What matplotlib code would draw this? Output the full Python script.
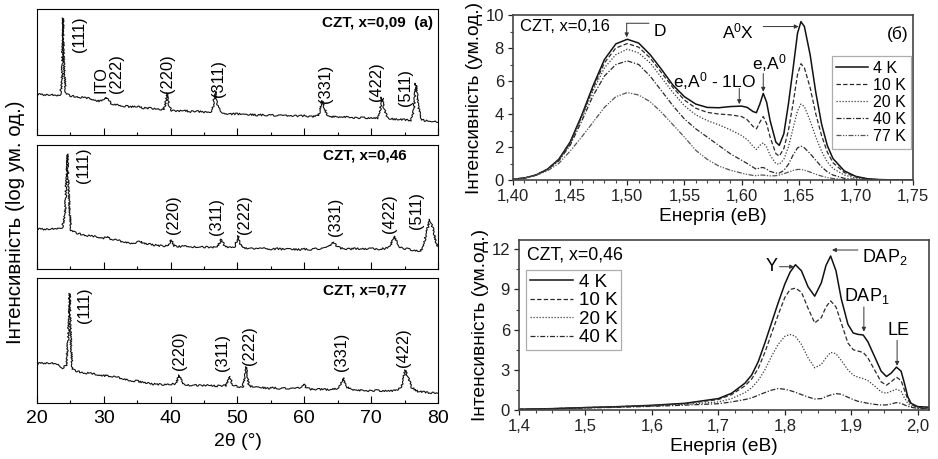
import matplotlib
matplotlib.use("Agg")
import matplotlib.pyplot as plt
from matplotlib.ticker import MultipleLocator, FuncFormatter

plt.rcParams['font.family'] = ['Liberation Sans', 'DejaVu Sans']
plt.rcParams['mathtext.fontset'] = 'custom'
plt.rcParams['mathtext.rm'] = 'Liberation Sans'
plt.rcParams['mathtext.it'] = 'Liberation Sans:italic'
plt.rcParams['mathtext.bf'] = 'Liberation Sans:bold'

# ---------------- XRD data (arbitrary log units, 0-100 of panel) ----------------
tt_a = [20, 21, 22, 23, 23.5, 23.75, 23.9, 24.05, 24.3, 25, 26, 27, 28, 29, 29.7, 30.0, 30.3, 30.7, 31.2,
        32, 33, 34, 35, 36, 37, 38, 38.9, 39.2, 39.5, 39.8, 40.2, 41, 42, 43, 44, 45, 46, 46.3, 46.7, 47.0,
        47.5, 48, 49, 50, 51, 52, 53, 54, 55, 56, 57, 58, 59, 60, 61, 62, 62.3, 62.7, 63.1, 63.5, 64, 65,
        66, 67, 68, 69, 70, 71, 71.3, 71.6, 71.9, 72.4, 73, 74, 75, 76, 76.4, 76.7, 77.0, 77.4, 78, 79, 80]
I_a = [32.4, 31.8, 32.2, 31.0, 31.5, 45, 92.8, 55, 33, 31.2, 30.3, 29.6, 28.8, 27.2, 26.8, 28.5, 30.0, 27.5, 24.5,
       24.2, 23.0, 22.4, 22.6, 21.4, 21.2, 20.3, 20.0, 23.5, 33.2, 23.0, 19.2, 19.0, 19.4, 18.6, 18.7, 18.2, 18.4, 21.0, 35.0, 24.0,
       17.6, 17.2, 16.6, 16.8, 16.0, 16.3, 15.8, 16.0, 15.5, 15.8, 15.2, 15.5, 15.0, 15.3, 14.6, 15.0, 18.5, 27.0, 20.0, 15.0, 14.6, 14.2,
       14.5, 14.0, 13.6, 13.9, 13.3, 13.5, 18.0, 30.0, 22.0, 14.0, 12.8, 12.5, 12.0, 11.8, 20.0, 41.0, 26.0, 12.5, 11.5, 10.8, 10.6]

tt_b = [20, 21, 22, 23, 23.8, 24.2, 24.55, 24.85, 25.1, 26, 27, 28, 29, 30, 30.4, 31, 32, 33, 34, 35, 35.5, 36, 37,
        38, 39, 39.7, 40.1, 40.5, 41, 42, 43, 44, 45, 46, 47.0, 47.6, 48.1, 48.8, 49.6, 50.1, 50.5, 51, 52, 53,
        54, 55, 56, 57, 58, 59, 60, 61, 62, 63, 63.7, 64.3, 64.9, 65.5, 66, 67, 68, 69, 70, 71, 72, 72.8, 73.5,
        74.1, 74.8, 75.5, 76.5, 77.3, 77.8, 78.3, 78.8, 79.3, 79.7, 80]
I_b = [32.3, 32.0, 32.5, 32.2, 33.5, 45, 92.7, 50, 31, 29.0, 27.6, 26.5, 25.8, 25.0, 26.0, 24.2, 23.2, 22.0, 21.0, 21.5, 22.2, 20.6, 19.8,
       19.0, 18.4, 18.8, 23.4, 18.5, 18.0, 18.5, 17.6, 18.1, 17.8, 17.4, 18.0, 23.9, 18.2, 17.5, 18.0, 26.6, 18.5, 17.0, 16.8, 16.3,
       16.6, 16.0, 16.4, 15.8, 16.2, 15.7, 16.1, 15.8, 16.4, 16.8, 18.0, 22.0, 18.0, 16.8, 16.4, 16.2, 16.6, 16.0, 16.4, 16.0, 16.5, 18.0, 26.6,
       18.5, 16.5, 16.3, 15.0, 14.0, 18.0, 30.0, 40.0, 32.0, 22.0, 16.7]

tt_c = [20, 21, 22, 23, 23.9, 24.4, 24.7, 24.9, 25.1, 25.3, 26, 27, 28, 29, 30, 31, 32, 33, 34, 35, 36, 37, 38, 39,
        40, 40.8, 41.3, 41.8, 42.5, 43.5, 44.5, 45.5, 46.5, 47.5, 48.3, 48.8, 49.3, 50, 50.8, 51.3, 51.7, 52.5, 53.5,
        54.5, 55.5, 56.5, 57.5, 58.5, 59.5, 59.9, 60.3, 61, 62, 63, 64, 65.2, 65.8, 66.3, 67, 68, 69, 70, 71, 72, 73,
        74, 74.6, 75.1, 75.6, 76.1, 77, 78, 79, 80]
I_c = [31.6, 31.8, 32.2, 30.8, 28.0, 30.5, 55, 87.7, 45, 27.0, 25.5, 24.2, 23.6, 22.6, 22.0, 21.4, 20.6, 19.4, 18.0, 17.5, 16.4, 15.4, 15.0, 14.5,
       14.8, 15.5, 22.2, 15.5, 14.2, 14.6, 13.8, 14.3, 13.6, 13.7, 14.0, 21.4, 14.5, 13.0, 12.6, 28.9, 14.0, 12.4, 12.6,
       11.8, 12.2, 11.5, 11.9, 11.4, 12.4, 15.5, 12.0, 11.0, 11.2, 10.8, 10.9, 11.5, 20.3, 13.0, 10.8, 10.4, 10.0, 9.8, 10.2, 9.6, 9.8,
       10.4, 14.0, 26.2, 20.0, 12.3, 9.4, 8.6, 8.2, 7.5]

labels_a = ["(111)", "ITO\n(222)", "(220)", "(311)", "(331)", "(422)", "(511)"]
lab_x_a = [26.4, 30.75, 39.6, 47.1, 63.1, 70.8, 75.2]
lab_y_a = [80, 49, 48.5, 45, 40.5, 42, 38]
labels_b = ["(111)", "(220)", "(311)", "(222)", "(331)", "(422)", "(511)"]
lab_x_b = [26.9, 40.5, 46.9, 51.1, 64.6, 72.8, 76.8]
lab_y_b = [84, 44, 42, 44, 42, 45, 47]
labels_c = ["(111)", "(220)", "(311)", "(222)", "(331)", "(422)"]
lab_x_c = [27.1, 41.4, 47.8, 51.8, 65.6, 74.8]
lab_y_c = [78, 42, 40, 46, 41, 44]
titles_xrd = ["CZT, x=0,09  (a)", "CZT, x=0,46", "CZT, x=0,77"]

# ---------------- PL data, x=0.16 ----------------
E_top = [1.40, 1.41, 1.42, 1.43, 1.44, 1.45, 1.46, 1.47, 1.48, 1.49, 1.50, 1.51, 1.52, 1.53, 1.54, 1.55, 1.56,
         1.57, 1.58, 1.59, 1.60, 1.605, 1.61, 1.613, 1.616, 1.619, 1.622, 1.625, 1.63, 1.633, 1.637, 1.641,
         1.645, 1.649, 1.652, 1.655, 1.66, 1.665, 1.67, 1.675, 1.68, 1.69, 1.70, 1.71, 1.72, 1.73, 1.75]
top_4K = [0.05, 0.12, 0.3, 0.65, 1.25, 2.3, 3.9, 5.7, 7.3, 8.25, 8.53, 8.3, 7.6, 6.7, 5.75, 5.05, 4.6, 4.4, 4.38,
          4.45, 4.48, 4.4, 4.15, 4.08, 4.6, 5.25, 4.7, 3.6, 2.3, 2.1, 2.8, 4.6, 6.7, 8.9, 9.6, 9.3, 7.6, 5.3, 3.4,
          2.1, 1.3, 0.55, 0.22, 0.08, 0.03, 0.01, 0.0]
top_10K = [0.05, 0.12, 0.3, 0.65, 1.23, 2.25, 3.85, 5.55, 7.1, 8.0, 8.27, 8.05, 7.4, 6.5, 5.6, 4.85, 4.35, 4.1, 4.0,
           3.95, 3.85, 3.65, 3.25, 3.1, 3.5, 3.85, 3.4, 2.6, 1.6, 1.45, 1.9, 3.0, 4.6, 6.4, 7.05, 6.8, 5.6, 4.0, 2.7,
           1.7, 1.05, 0.45, 0.18, 0.07, 0.02, 0.01, 0.0]
top_20K = [0.05, 0.12, 0.3, 0.64, 1.2, 2.2, 3.75, 5.4, 6.8, 7.6, 7.93, 7.7, 7.1, 6.2, 5.3, 4.5, 3.95, 3.6, 3.35,
           3.05, 2.7, 2.45, 2.05, 1.85, 2.1, 2.25, 2.0, 1.5, 1.0, 0.95, 1.25, 2.0, 3.1, 4.2, 4.6, 4.45, 3.6, 2.6, 1.75,
           1.1, 0.7, 0.3, 0.12, 0.05, 0.02, 0.0, 0.0]
top_40K = [0.05, 0.12, 0.3, 0.62, 1.15, 2.1, 3.55, 5.1, 6.3, 7.0, 7.22, 7.0, 6.3, 5.4, 4.5, 3.7, 3.1, 2.6, 2.1,
           1.6, 1.2, 1.0, 0.78, 0.65, 0.74, 0.76, 0.66, 0.52, 0.42, 0.42, 0.58, 0.95, 1.5, 1.95, 2.05, 1.95, 1.6, 1.2, 0.8,
           0.5, 0.3, 0.1, 0.04, 0.01, 0.0, 0.0, 0.0]
top_77K = [0.05, 0.11, 0.28, 0.55, 1.0, 1.75, 2.6, 3.5, 4.4, 5.05, 5.3, 5.15, 4.75, 4.1, 3.35, 2.6, 1.8, 1.25, 0.85,
           0.6, 0.42, 0.34, 0.28, 0.26, 0.3, 0.3, 0.27, 0.25, 0.26, 0.3, 0.38, 0.48, 0.58, 0.64, 0.64, 0.6, 0.48, 0.35, 0.24,
           0.15, 0.09, 0.03, 0.01, 0.0, 0.0, 0.0, 0.0]
top_series = [top_4K, top_10K, top_20K, top_40K, top_77K]
top_labels = ["4 K", "10 K", "20 K", "40 K", "77 K"]
top_xticks = [1.40, 1.45, 1.50, 1.55, 1.60, 1.65, 1.70, 1.75]
top_yticks = [0, 2, 4, 6, 8, 10]

# ---------------- PL data, x=0.46 ----------------
E_bot = [1.40, 1.45, 1.50, 1.55, 1.60, 1.65, 1.70, 1.72, 1.74, 1.75, 1.76, 1.77, 1.78, 1.79, 1.80, 1.808, 1.816,
         1.825, 1.835, 1.845, 1.855, 1.862, 1.869, 1.877, 1.885, 1.895, 1.903, 1.91, 1.918, 1.925, 1.935, 1.945,
         1.953, 1.96, 1.968, 1.975, 1.98, 1.985, 1.99, 2.00, 2.02]
bot_4K = [0.05, 0.1, 0.18, 0.25, 0.35, 0.5, 0.85, 1.25, 2.0, 2.6, 3.6, 5.0, 6.5, 8.0, 9.4, 10.3, 10.85, 10.4, 9.2,
          8.5, 9.5, 10.8, 11.5, 10.4, 8.3, 6.4, 5.75, 5.65, 5.6, 5.1, 4.0, 2.9, 2.5, 2.75, 3.2, 2.9, 2.0, 1.0, 0.5,
          0.25, 0.2]
bot_10K = [0.05, 0.1, 0.18, 0.25, 0.33, 0.47, 0.78, 1.15, 1.8, 2.3, 3.1, 4.3, 5.7, 7.1, 8.4, 9.0, 9.1, 8.8, 7.6,
           6.5, 6.9, 7.7, 8.15, 7.7, 6.5, 5.0, 4.5, 4.4, 4.3, 3.9, 3.0, 2.1, 1.85, 2.1, 2.45, 2.2, 1.5, 0.8, 0.4,
           0.2, 0.15]
bot_20K = [0.05, 0.1, 0.17, 0.24, 0.3, 0.42, 0.6, 0.85, 1.3, 1.65, 2.2, 3.0, 4.0, 4.9, 5.5, 5.64, 5.5, 4.9, 3.9,
           3.15, 3.4, 3.9, 4.3, 4.2, 3.7, 3.0, 2.6, 2.45, 2.35, 2.2, 1.8, 1.35, 1.25, 1.4, 1.55, 1.4, 0.9, 0.5, 0.3,
           0.15, 0.1]
bot_40K = [0.05, 0.09, 0.15, 0.2, 0.27, 0.36, 0.47, 0.6, 0.78, 0.9, 1.1, 1.3, 1.48, 1.6, 1.55, 1.45, 1.32, 1.15,
           0.97, 0.82, 0.85, 1.0, 1.12, 1.22, 1.18, 0.95, 0.78, 0.65, 0.57, 0.5, 0.42, 0.37, 0.38, 0.45, 0.55, 0.5,
           0.38, 0.28, 0.2, 0.12, 0.1]
bot_series = [bot_4K, bot_10K, bot_20K, bot_40K]
bot_labels = ["4 K", "10 K", "20 K", "40 K"]
bot_xticks = [1.4, 1.5, 1.6, 1.7, 1.8, 1.9, 2.0]
bot_yticks = [0, 3, 6, 9, 12]

# ---------------- styles ----------------
styles = [dict(color='#111111', lw=1.1, ls='-'),
          dict(color='#2a2a2a', lw=0.9, ls=(0, (3.5, 1.8))),
          dict(color='#3a3a3a', lw=0.9, ls=(0, (1, 1.4))),
          dict(color='#2a2a2a', lw=0.9, ls=(0, (4, 1.4, 1, 1.4))),
          dict(color='#555555', lw=0.9, ls=(0, (4, 1.2, 1, 1.2, 1, 1.2)))]

fig = plt.figure(figsize=(9.38, 4.59), dpi=100)

# ---------------- left XRD panels ----------------
xrd_rects = [[0.0394, 0.7059, 0.4275, 0.2745],
             [0.0394, 0.4139, 0.4275, 0.2702],
             [0.0394, 0.1220, 0.4275, 0.2723]]
xrd_data = [(tt_a, I_a, labels_a, lab_x_a, lab_y_a),
            (tt_b, I_b, labels_b, lab_x_b, lab_y_b),
            (tt_c, I_c, labels_c, lab_x_c, lab_y_c)]
title_pos = [(0.9875, 0.889), (0.921, 0.919), (0.922, 0.904)]
for k, (rect, (tt, I, labs, lx, ly)) in enumerate(zip(xrd_rects, xrd_data)):
    ax = fig.add_axes(rect)
    ln, = ax.plot(tt, I, color='#111111', lw=0.8)
    ln.set_sketch_params(scale=0.9, length=1.6, randomness=2.0)
    ax.set_xlim(20, 80)
    ax.set_ylim(0, 100)
    ax.set_yticks([])
    ax.xaxis.set_major_locator(MultipleLocator(10))
    ax.xaxis.set_minor_locator(MultipleLocator(5))
    ax.tick_params(axis='x', which='major', direction='in', length=5, width=0.8, labelsize=14, pad=5)
    ax.tick_params(axis='x', which='minor', direction='in', length=2.5, width=0.8)
    for s in ax.spines.values():
        s.set_linewidth(0.8)
    if k < 2:
        ax.tick_params(axis='x', labelbottom=False)
    else:
        ax.set_xlabel("2θ (°)", fontsize=14, labelpad=4)
    for t, x, y in zip(labs, lx, ly):
        ax.text(x, y, t, rotation=90, ha='center', va='center', fontsize=11.8,
                multialignment='left', linespacing=1.0)
    tx, ty = title_pos[k]
    ax.text(tx, ty, titles_xrd[k], transform=ax.transAxes, ha='right', va='center',
            fontsize=11, fontweight='bold')

fig.text(0.016, 0.516, "Інтенсивність (log ум. од.)", rotation=90, ha='center', va='center',
         fontsize=14.8)

comma = FuncFormatter(lambda v, p: ("%.2f" % v).replace('.', ','))
comma1 = FuncFormatter(lambda v, p: ("%.1f" % v).replace('.', ','))

def style_pl(ax):
    for s in ax.spines.values():
        s.set_linewidth(1.2)
        s.set_color('#444444')
    ax.tick_params(which='major', direction='out', length=3.5, width=0.9, labelsize=12,
                   colors='#222222', pad=3)
    ax.tick_params(which='minor', direction='out', length=2, width=0.8, colors='#444444')

arrow_kw = dict(arrowstyle='-|>', color='#333333', lw=0.7, mutation_scale=6, shrinkA=0, shrinkB=0)
line_kw = dict(arrowstyle='-', color='#333333', lw=0.7, shrinkA=0, shrinkB=0)

# ---------------- right top PL ----------------
ax1 = fig.add_axes([0.5469, 0.6078, 0.4264, 0.3595])
for ser, lab, st in zip(top_series, top_labels, styles):
    ax1.plot(E_top, ser, label=lab, **st)
ax1.set_xlim(1.40, 1.75)
ax1.set_ylim(0, 10)
ax1.set_xticks(top_xticks)
ax1.set_yticks(top_yticks)
ax1.xaxis.set_minor_locator(MultipleLocator(0.01))
ax1.yaxis.set_minor_locator(MultipleLocator(1))
ax1.xaxis.set_major_formatter(comma)
style_pl(ax1)
ax1.set_xlabel("Енергія (еВ)", fontsize=13.8, labelpad=3)
ax1.set_ylabel("Інтенсивність (ум.од.)", fontsize=13.8, labelpad=2)
ax1.text(0.0175, 0.975, "CZT, x=0,16", transform=ax1.transAxes, ha='left', va='top', fontsize=12)
ax1.text(0.99, 0.935, "(б)", transform=ax1.transAxes, ha='right', va='top', fontsize=12.5)
leg1 = ax1.legend(loc='upper right', bbox_to_anchor=(0.995, 0.75), borderaxespad=0, fontsize=11.5,
                  frameon=True, fancybox=False, edgecolor='#999999', handlelength=2.0,
                  handletextpad=0.3, labelspacing=0.12, borderpad=0.3, markerfirst=True)
leg1.get_frame().set_linewidth(0.9)
# annotations
ax1.annotate('', xy=(1.4995, 9.5), xytext=(1.519, 9.5), arrowprops=line_kw)
ax1.annotate('', xy=(1.4995, 8.65), xytext=(1.4995, 9.5), arrowprops=arrow_kw)
ax1.text(1.523, 9.0, "D", ha='left', va='center', fontsize=12.5)
ax1.text(1.611, 9.0, "A$^{\\mathrm{0}}$X", ha='right', va='center', fontsize=12.5)
ax1.annotate('', xy=(1.650, 9.3), xytext=(1.619, 9.3), arrowprops=arrow_kw)
ax1.text(1.540, 6.0, "e,A$^{\\mathrm{0}}$ - 1LO", ha='left', va='center', fontsize=12.5)
ax1.annotate('', xy=(1.598, 4.6), xytext=(1.598, 5.55), arrowprops=arrow_kw)
ax1.text(1.624, 7.1, "e,A$^{\\mathrm{0}}$", ha='center', va='center', fontsize=12.5)
ax1.annotate('', xy=(1.619, 5.35), xytext=(1.619, 6.45), arrowprops=arrow_kw)

# ---------------- right bottom PL ----------------
ax2 = fig.add_axes([0.5533, 0.1068, 0.4371, 0.3704])
for ser, lab, st in zip(bot_series, bot_labels, styles):
    ax2.plot(E_bot, ser, label=lab, **st)
ax2.set_xlim(1.4, 2.017)
ax2.set_ylim(0, 12.7)
ax2.set_xticks(bot_xticks)
ax2.set_yticks(bot_yticks)
ax2.xaxis.set_minor_locator(MultipleLocator(0.025))
ax2.yaxis.set_minor_locator(MultipleLocator(1.5))
ax2.xaxis.set_major_formatter(comma1)
style_pl(ax2)
ax2.set_xlabel("Енергія (еВ)", fontsize=13.8, labelpad=3)
ax2.set_ylabel("Інтенсивність (ум.од.)", fontsize=13.8, labelpad=2)
ax2.text(0.0195, 0.96, "CZT, x=0,46", transform=ax2.transAxes, ha='left', va='top', fontsize=12.8)
leg2 = ax2.legend(loc='upper left', bbox_to_anchor=(0.018, 0.825), borderaxespad=0, fontsize=13.5,
                  frameon=True, fancybox=False, edgecolor='#999999', handlelength=2.3,
                  handletextpad=0.3, labelspacing=0.08, borderpad=0.2)
leg2.get_frame().set_linewidth(0.9)
ax2.text(1.789, 10.7, "Y", ha='right', va='center', fontsize=13)
ax2.annotate('', xy=(1.814, 10.7), xytext=(1.792, 10.7), arrowprops=arrow_kw)
ax2.text(1.916, 11.45, "DAP$_{\\mathrm{2}}$", ha='left', va='center', fontsize=13)
ax2.annotate('', xy=(1.871, 11.95), xytext=(1.91, 11.95), arrowprops=arrow_kw)
ax2.text(1.924, 8.5, "DAP$_{\\mathrm{1}}$", ha='center', va='center', fontsize=13)
ax2.annotate('', xy=(1.919, 5.85), xytext=(1.919, 7.7), arrowprops=arrow_kw)
ax2.text(1.971, 5.95, "LE", ha='center', va='center', fontsize=13)
ax2.annotate('', xy=(1.969, 3.3), xytext=(1.969, 5.2), arrowprops=arrow_kw)

fig.savefig("out.png", dpi=100)
